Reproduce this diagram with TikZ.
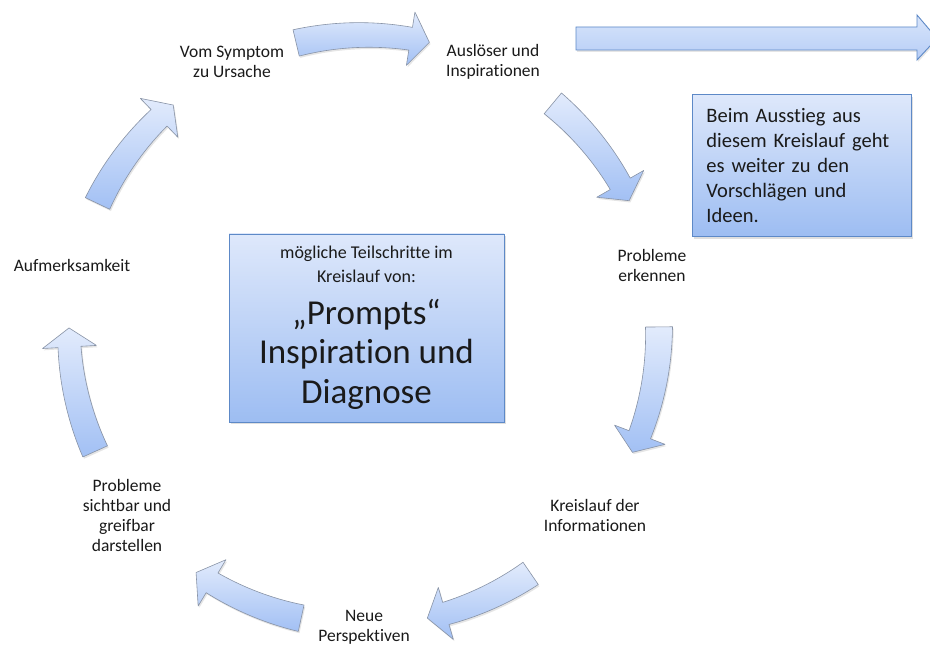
\documentclass[tikz,border=0pt]{standalone}
\usepackage{fontspec}
\setmainfont{Carlito}[Ligatures={NoCommon}]
\usetikzlibrary{shadows}

\definecolor{txt}{HTML}{1A1A1A}
\definecolor{arrtop}{HTML}{E2EBFC}
\definecolor{arrbot}{HTML}{A2C0F4}
\definecolor{arredge}{HTML}{8893A6}
\definecolor{boxtop}{HTML}{DEE8FB}
\definecolor{boxbot}{HTML}{9DBDF2}
\definecolor{boxedge}{HTML}{5D89C7}
\definecolor{exittop}{HTML}{D8E5FB}
\definecolor{exitbot}{HTML}{B6CDF6}

% geometry of the cycle: centre, radius, shaft half-widths (tail/head),
% head half-width and head length (in degrees along the circle)
\def\ccx{364}
\def\ccy{316}
\def\cR{295}
\def\cwt{13.5}
\def\cwh{11.5}
\def\chw{27}
\def\chd{3.7}

\tikzset{
  cyclearrowstyle/.style={draw=arredge, line width=0.6pt, line join=round,
    top color=arrtop, bottom color=arrbot,
    drop shadow={opacity=0.2, shadow xshift=1.2pt, shadow yshift=-1.8pt}},
  cyclabel/.style={font=\fontsize{17.5}{20}\selectfont, text=txt,
    align=center, inner sep=0pt},
  infobox/.style={draw=boxedge, line width=0.9pt,
    top color=boxtop, bottom color=boxbot,
    drop shadow={opacity=0.25, shadow xshift=2pt, shadow yshift=-2.5pt}},
  smalltxt/.style={font=\fontsize{18}{24}\selectfont, text=txt, anchor=base, inner sep=0pt},
  bigtxt/.style={font=\fontsize{35}{40}\selectfont, text=txt, anchor=base, inner sep=0pt},
}

% curved block arrow running clockwise along the cycle circle
% #1 = angle of the tail, #2 = angle of the head base
\newcommand\cyclearrow[2]{%
  \path[cyclearrowstyle]
    plot[variable=\t, domain=#1:#2, samples=40]
      ({\ccx+(\cR+\cwt+(\cwh-\cwt)*(\t-(#1))/((#2)-(#1)))*cos(\t)},
       {\ccy+(\cR+\cwt+(\cwh-\cwt)*(\t-(#1))/((#2)-(#1)))*sin(\t)})
    -- ({\ccx+(\cR+\chw)*cos(#2)},{\ccy+(\cR+\chw)*sin(#2)})
    -- ({\ccx+\cR*cos(#2-\chd)},{\ccy+\cR*sin(#2-\chd)})
    -- ({\ccx+(\cR-\chw)*cos(#2)},{\ccy+(\cR-\chw)*sin(#2)})
    -- plot[variable=\t, domain=#2:#1, samples=40]
      ({\ccx+(\cR-\cwt-(\cwh-\cwt)*(\t-(#1))/((#2)-(#1)))*cos(\t)},
       {\ccy+(\cR-\cwt-(\cwh-\cwt)*(\t-(#1))/((#2)-(#1)))*sin(\t)})
    -- cycle;}

\begin{document}
\begin{tikzpicture}[x=1pt, y=1pt]
  \useasboundingbox (0,0) rectangle (930,646);
  \fill[white] (0,0) rectangle (930,646);
  \clip (0,0) rectangle (930,646);

  % the seven arrows of the cycle
  \cyclearrow{103.3}{80.9}
  \cyclearrow{50.2}{29.7}
  \cyclearrow{0.6}{-20.8}
  \cyclearrow{-55.6}{-73.9}
  \cyclearrow{-102.3}{-121.0}
  \cyclearrow{-155.7}{-176.7}
  \cyclearrow{154.6}{134.0}

  % exit arrow
  \path[draw=boxedge, line width=0.9pt, line join=miter,
        top color=exittop, bottom color=exitbot,
        drop shadow={opacity=0.2, shadow xshift=1.2pt, shadow yshift=-1.8pt}]
    (576,619) -- (917,619) -- (917,631) -- (937,607.5)
    -- (917,586) -- (917,596) -- (576,596) -- cycle;

  % step labels
  \node[cyclabel] (symptom)     at (232,584) {Vom Symptom\\zu Ursache};
  \node[cyclabel] (trigger)     at (493,584) {Auslöser und\\Inspirationen};
  \node[cyclabel] (recognise)   at (652,381) {Probleme\\erkennen};
  \node[cyclabel] (infoflow)    at (595,131) {Kreislauf der\\Informationen};
  \node[cyclabel] (perspective) at (364,19)  {Neue\\Perspektiven};
  \node[cyclabel] (visible)     at (127,131) {Probleme\\sichtbar und\\greifbar\\darstellen};
  \node[cyclabel] (attention)   at (72,381)  {Aufmerksamkeit};

  % central title box
  \node[infobox, minimum width=275pt, minimum height=188pt, inner sep=0pt]
    (centerbox) at (366.5,318) {};
  \node[smalltxt] (titleA) at (366.5,387) {mögliche Teilschritte im};
  \node[smalltxt] (titleB) at (366.5,363) {Kreislauf von:};
  \node[bigtxt]   (titleC) at (366.5,321) {„Prompts“};
  \node[bigtxt]   (titleD) at (366.5,282) {Inspiration und};
  \node[bigtxt]   (titleE) at (366.5,242) {Diagnose};

  % note box on the exit
  \node[infobox, anchor=north west, minimum height=142pt,
        text width=191pt, inner xsep=14pt, inner ysep=0pt, align=left,
        font=\fontsize{20.5}{25}\selectfont, text=txt]
    (exitnote) at (692,552)
    {Beim Ausstieg aus\\diesem Kreislauf geht\\es weiter zu den\\Vorschlägen und\\Ideen.};
\end{tikzpicture}
\end{document}
